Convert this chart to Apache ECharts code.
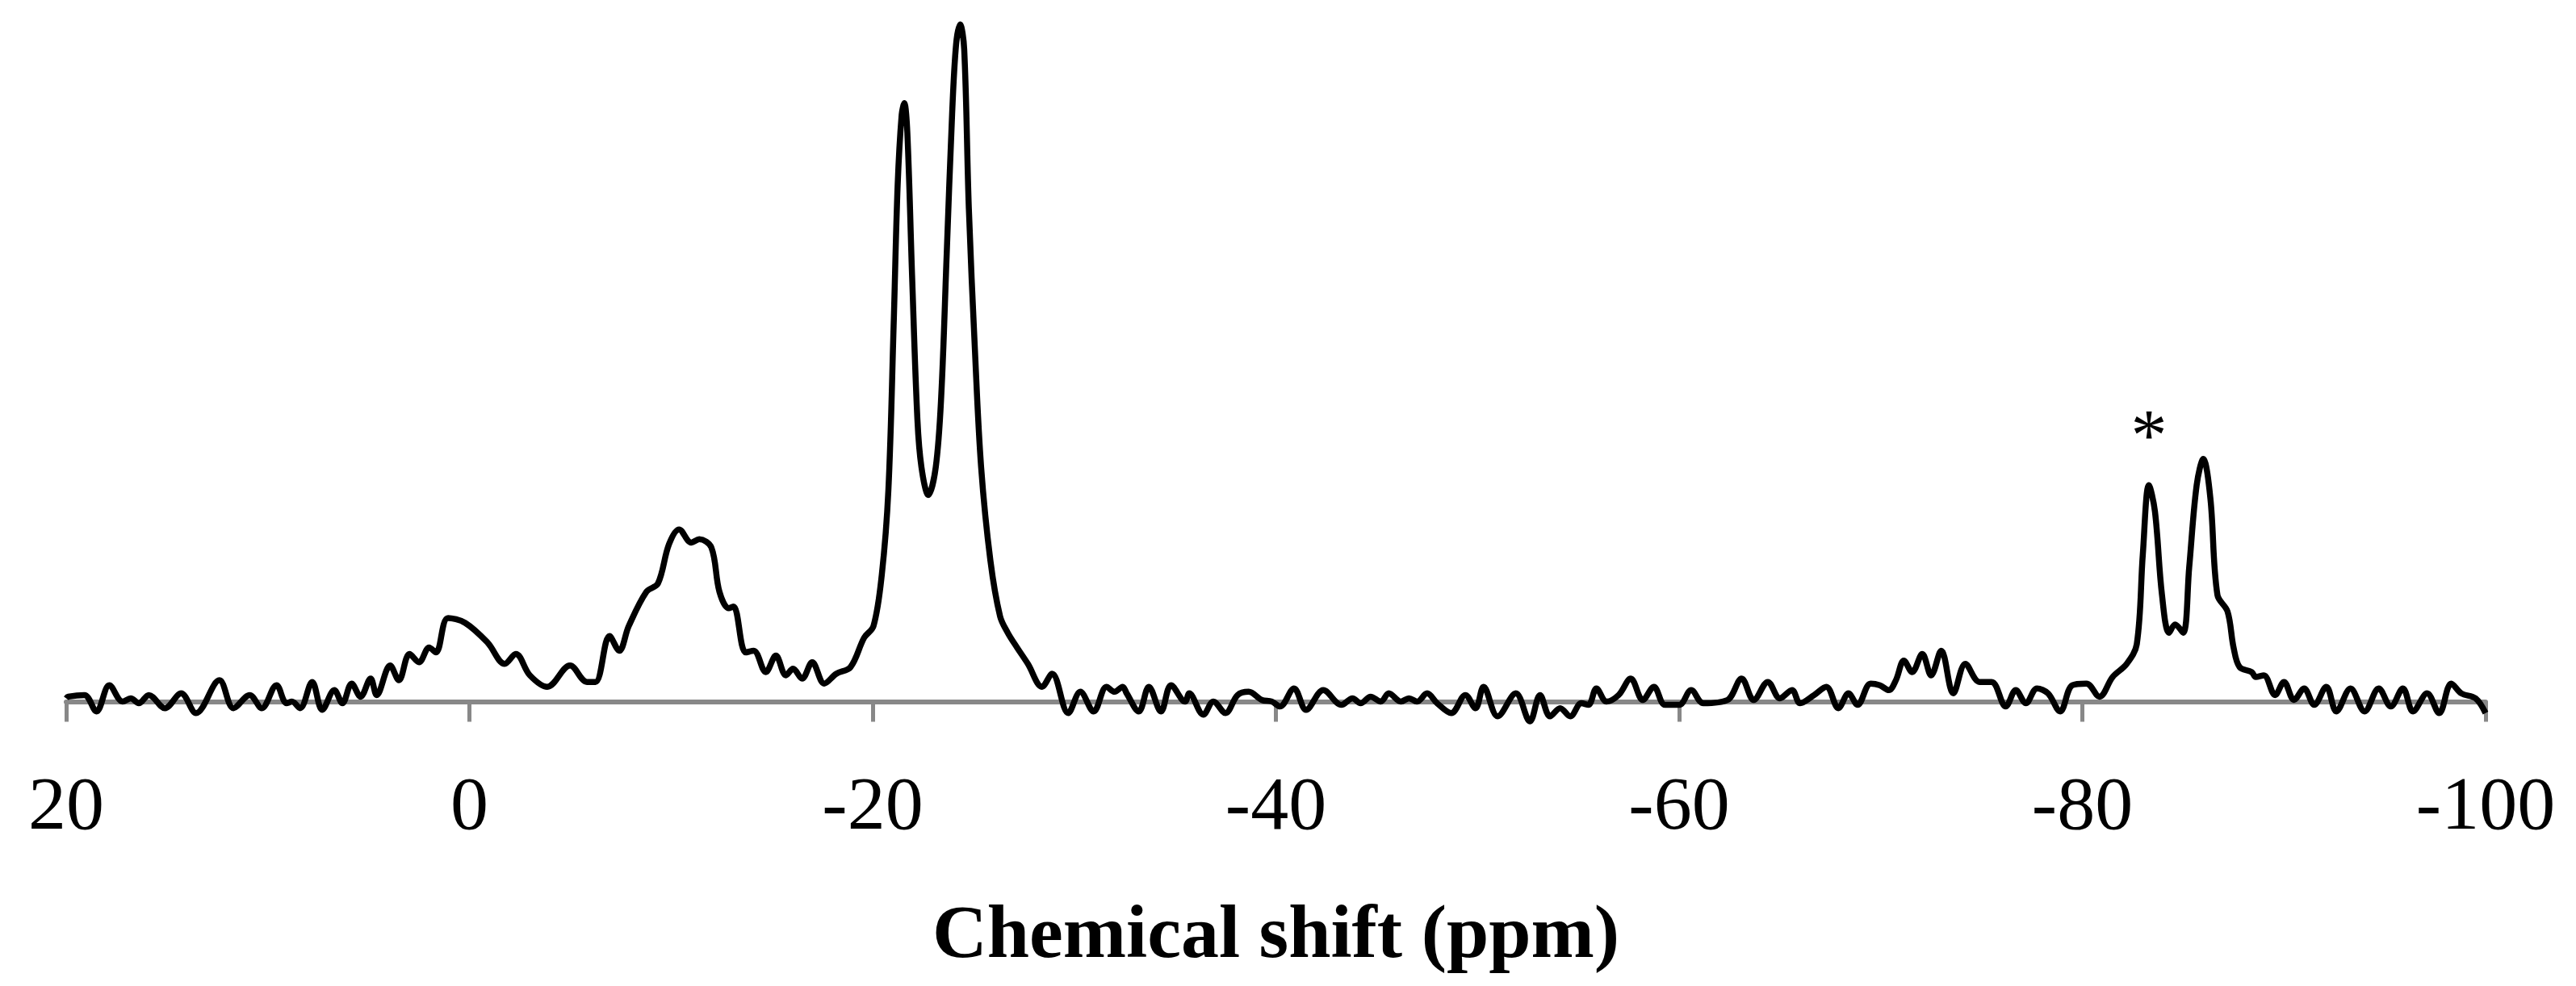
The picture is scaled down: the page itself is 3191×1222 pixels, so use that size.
<!DOCTYPE html>
<html>
<head>
<meta charset="utf-8">
<script src="https://cdn.jsdelivr.net/npm/echarts@6/dist/echarts.min.js"></script>
<style>
  html, body { margin: 0; padding: 0; background: #fff; }
  #main { width: 3191px; height: 1222px; }
</style>
</head>
<body>
<div id="main"></div>
<script>
// chemical shift (ppm) and intensity
const shift = [
  20, 19.9, 19.1, 18.5, 17.86, 17.2, 16.8, 16.4, 15.9, 15.1, 14.3, 13.56, 12.4, 11.7, 10.9, 10.3,
  9.57, 9.07, 8.8, 8.4, 7.8, 7.3, 6.7, 6.3, 5.84, 5.4, 4.9, 4.6, 3.93, 3.5, 2.97, 2.5, 2.0, 1.66,
  1.06, 0.21, -0.9, -1.75, -2.3, -3.0, -3.86, -4.99, -5.83, -6.25, -6.95, -7.43, -7.9, -8.78, -9.35,
  -9.9, -10.4, -11.0, -11.4, -12.0, -12.4, -12.86, -13.1, -13.7, -14.1, -14.7, -15.2, -15.7, -16.05,
  -16.5, -17.0, -17.6, -18.2, -18.9, -19.58, -20.04, -20.45, -20.78, -21.04, -21.24, -21.44, -21.57,
  -21.72, -21.96, -22.22, -22.42, -22.76, -23.13, -23.4, -23.67, -23.94, -24.14, -24.34, -24.54,
  -24.77, -25.07, -25.38, -25.84, -26.32, -26.7, -27.16, -27.7, -28.4, -28.9, -29.7, -30.3, -30.96,
  -31.6, -32.0, -32.4, -32.6, -33.2, -33.7, -34.3, -34.8, -35.5, -35.7, -36.4, -36.9, -37.5, -38.1,
  -38.65, -39.3, -39.8, -40.2, -40.9, -41.5, -42.35, -43.25, -43.8, -44.2, -44.7, -45.2, -45.6,
  -46.2, -46.6, -47.0, -47.5, -48.0, -48.7, -49.4, -49.9, -50.3, -51.0, -51.9, -52.6, -53.1, -53.6,
  -54.1, -54.6, -55.15, -55.5, -55.9, -56.4, -57.0, -57.6, -58.2, -58.75, -59.3, -60.0, -60.6,
  -61.2, -62.4, -63.1, -63.7, -64.4, -65.0, -65.6, -66.0, -66.7, -67.3, -67.9, -68.4, -68.85,
  -69.5, -69.95, -70.4, -70.75, -71.15, -71.56, -72.06, -72.5, -73.0, -73.6, -74.2, -74.9, -75.5,
  -76.2, -76.7, -77.2, -77.75, -78.3, -78.9, -79.5, -80.2, -80.85, -81.5, -82.2, -82.7, -83.0,
  -83.3, -83.6, -83.95, -84.3, -84.6, -85.0, -85.3, -85.67, -86.0, -86.35, -86.7, -87.2, -87.5,
  -87.8, -88.4, -88.6, -89.0, -89.56, -90.0, -90.5, -91.0, -91.5, -92.1, -92.6, -93.3, -94.0,
  -94.7, -95.3, -95.9, -96.4, -97.1, -97.7, -98.3, -98.8, -99.5, -100
];
const intensity = [
  2, 3, 4, -6, 10, 0, 2, -1, 4, -4, 5, -7, 13, -4, 4, -4,
  10, -1, 0, -4, 12, -5, 7, -1, 11, 3, 14, 4, 22, 13, 29, 24, 33, 30,
  51, 48, 36, 23, 29, 16, 9, 22, 12, 12, 40, 31, 46, 67, 72,
  96, 105, 97, 99, 94, 67, 57, 58, 30, 31, 18, 28, 16, 20,
  14, 24, 11, 17, 21, 39, 46, 77, 129, 229, 315, 358, 365,
  347, 258, 172, 143, 126, 143, 186, 272, 358, 401, 413, 398,
  301, 215, 143, 86, 52, 42, 33, 23, 9, 17, -7, 6, -6,
  9, 6, 9, 5, -6, 9, -6, 10, 0, 5, -8, 0, -7, 4,
  6, 1, 0, -3, 8, -5, 7, -2, 2, -1, 3, 0, 5,
  0, 2, 0, 5, -1, -7, 4, -4, 9, -9, 5, -12, 4, -9,
  -4, -9, -1, -2, 8, 0, 4, 14, 1, 9, -2, -2, 7,
  -1, 1, 14, 1, 12, 2, 7, -1, 4, 9, -4, 5, -2,
  11, 10, 7, 13, 25, 18, 29, 16, 31, 5, 23, 12, 12,
  -3, 7, -1, 8, 5, -6, 10, 11, 3, 15, 23, 35, 90,
  132, 116, 65, 42, 47, 42, 82, 132, 148, 124, 65, 55, 33,
  21, 18, 15, 16, 4, 12, 1, 8, -2, 9, -6, 8, -6,
  8, -3, 8, -6, 5, -7, 11, 5, 2, -7
];
const xTicks = [20, 0, -20, -40, -60, -80, -100];

const points = [];
for (let i = 0; i < shift.length; ++i) {
  points.push([shift[i], intensity[i]]);
}

var myChart = echarts.init(document.getElementById('main'));
var option = {
  animation: false,
  grid: { left: 82, right: 112, top: 16, bottom: 322, outerBoundsMode: 'none', containLabel: false },
  xAxis: {
    type: 'value',
    inverse: true,
    min: -100,
    max: 20,
    interval: 20,
    name: 'Chemical shift (ppm)',
    nameLocation: 'middle',
    nameGap: 215,
    nameTextStyle: { fontFamily: 'Liberation Serif', fontWeight: 'bold', fontSize: 94, color: '#000' },
    axisLine: { onZero: true, lineStyle: { color: '#888', width: 6 } },
    axisTick: { show: true, length: 25, lineStyle: { color: '#888', width: 5 } },
    axisLabel: {
      margin: 55,
      fontFamily: 'Liberation Serif',
      fontSize: 94,
      color: '#000',
      formatter: v => xTicks.includes(v) ? String(v) : ''
    },
    splitLine: { show: false }
  },
  yAxis: {
    type: 'value',
    min: -15,
    max: 420,
    show: false
  },
  series: [{
    type: 'line',
    data: points,
    smooth: 0.35,
    showSymbol: false,
    lineStyle: { color: '#000', width: 7.5 },
    markPoint: {
      symbol: 'circle',
      symbolSize: 0,
      data: [{ coord: [-83.3, 168] }],
      label: {
        show: true,
        formatter: '*',
        fontFamily: 'Liberation Serif',
        fontSize: 90,
        color: '#000',
        position: 'inside',
        offset: [0, 18]
      }
    }
  }]
};
myChart.setOption(option);
</script>
</body>
</html>
